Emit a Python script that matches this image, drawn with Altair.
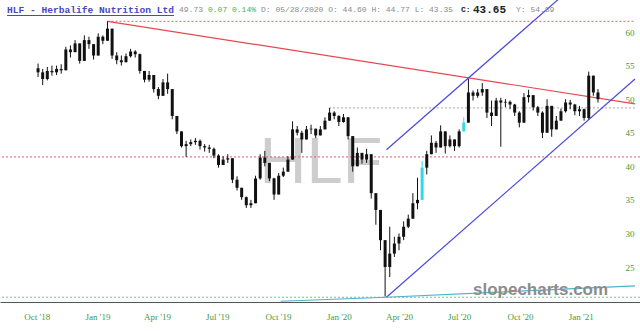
import altair as alt
import pandas as pd

# ---------------- data (weekly candles) ----------------
first_week = "2018-10-01"
first_open = 54.6
close = [54.0, 53.0, 54.2, 54.0, 54.5, 54.3, 57.4, 57.0, 58.3, 55.7,
         58.8, 58.2, 56.5, 59.3, 58.7, 60.5, 56.5, 55.8, 55.5, 56.4,
         57.1, 56.7, 54.2, 52.9, 53.6, 51.5, 50.5, 52.5, 51.5, 47.5,
         45.2, 43.0, 43.3, 43.6, 43.8, 43.0, 42.8, 42.6, 41.6, 40.2,
         41.0, 41.2, 38.0, 36.8, 35.4, 34.2, 34.5, 38.2, 41.3, 40.5,
         38.2, 35.8, 38.6, 39.2, 41.0, 45.5, 45.0, 44.0, 45.5, 45.6,
         44.6, 45.5, 46.8, 48.0, 47.5, 46.6, 47.3, 44.5, 40.0, 42.0,
         41.0, 41.8, 36.0, 33.5, 29.0, 25.0, 27.0, 28.5, 29.5, 31.0,
         32.2, 34.5, 35.0, 39.8, 41.8, 43.5, 42.8, 45.2, 43.0, 44.0,
         43.0, 45.2, 46.5, 51.0, 50.5, 51.0, 51.5, 48.0, 47.5, 49.8,
         49.5, 49.6, 49.2, 48.0, 46.5, 50.3, 50.6, 48.8, 48.0, 45.0,
         49.0, 45.5, 46.8, 48.2, 49.5, 49.2, 48.2, 48.5, 47.2, 53.5,
         51.0, 50.0]
high = [55.3, 54.5, 54.8, 55.0, 55.0, 55.2, 57.8, 58.0, 58.8, 58.0,
        59.5, 59.3, 58.0, 59.8, 59.5, 61.6, 59.5, 57.0, 56.5, 56.8,
        57.5, 57.3, 56.8, 54.0, 54.2, 53.0, 51.8, 53.0, 53.8, 50.5,
        47.5, 45.0, 43.8, 44.0, 44.2, 44.0, 43.3, 43.2, 42.8, 41.8,
        41.5, 41.8, 40.0, 38.5, 36.8, 35.5, 35.0, 38.6, 41.8, 42.3,
        40.5, 38.3, 39.0, 39.8, 41.5, 46.7, 46.0, 45.3, 46.0, 46.2,
        45.6, 46.0, 47.3, 48.7, 48.2, 47.6, 47.8, 47.3, 43.0, 42.8,
        42.0, 42.6, 40.0, 35.0, 32.5, 28.0, 31.0, 29.5, 30.0, 31.8,
        32.8, 36.0, 38.3, 40.8, 42.3, 44.6, 43.8, 46.1, 45.0, 44.6,
        44.0, 45.5, 47.3, 53.0, 51.3, 51.5, 52.4, 51.5, 49.8, 50.2,
        50.2, 50.0, 49.8, 49.3, 48.2, 50.9, 51.4, 50.5, 49.0, 48.2,
        50.0, 48.5, 47.5, 48.6, 50.0, 49.9, 49.3, 49.0, 48.6, 54.1,
        53.5, 51.5]
low = [53.3, 52.1, 52.8, 53.5, 53.6, 53.8, 54.3, 56.2, 57.0, 55.3,
       55.7, 57.5, 55.9, 56.5, 58.2, 58.8, 56.0, 55.2, 55.0, 55.5,
       56.2, 56.2, 53.8, 52.5, 52.6, 51.0, 50.0, 50.5, 50.8, 47.0,
       44.8, 42.8, 41.4, 43.0, 43.2, 42.5, 42.2, 42.0, 41.2, 39.8,
       40.2, 40.5, 37.5, 36.4, 35.0, 33.8, 33.8, 34.5, 38.0, 40.0,
       37.8, 35.0, 36.0, 38.4, 39.5, 41.0, 44.6, 42.0, 44.5, 44.8,
       44.2, 44.6, 46.0, 47.0, 47.0, 46.0, 46.5, 44.0, 39.2, 40.0,
       40.4, 40.5, 35.2, 31.3, 27.5, 20.6, 23.5, 26.5, 27.5, 29.0,
       30.8, 33.0, 33.6, 35.5, 38.8, 42.0, 42.0, 43.0, 41.9, 42.8,
       42.3, 42.8, 45.5, 47.0, 49.8, 50.2, 50.5, 47.2, 46.0, 49.0,
       42.9, 48.8, 48.5, 47.5, 45.8, 46.5, 49.5, 48.3, 47.5, 44.2,
       45.0, 44.4, 45.5, 46.8, 48.0, 48.5, 47.6, 47.5, 46.8, 47.0,
       50.5, 49.5]
cyan_weeks = [83, 92]

x_ticks = ["2018-10-01", "2019-01-01", "2019-04-01", "2019-07-01", "2019-10-01",
           "2020-01-01", "2020-04-01", "2020-07-01", "2020-10-01", "2021-01-01"]
y_ticks = [25, 30, 35, 40, 45, 50, 55, 60]
x_domain = ["2018-08-14", "2021-03-24"]
y_domain = [19.79, 64.77]

# horizontal levels
peak_date, peak_price = "2019-01-16", 61.6
jan20_date, jan20_price = "2019-12-17", 48.7
support_price = 41.4
floor_price = 20.5

# sloped lines (start date, start price, end date, end price, colour)
seg_x = ["2019-01-16", "2020-03-13", "2020-03-13", "2019-10-05", "2020-03-13"]
seg_x2 = ["2021-03-24", "2021-03-24", "2021-03-24", "2020-03-13", "2021-03-24"]
seg_y = [61.6, 20.5, 42.46, 19.9, 20.5]
seg_y2 = [49.3, 53.0, 74.86, 20.5, 22.2]
seg_col = ["#e8474f", "#4a4ae0", "#4a4ae0", "#4ab5c8", "#4ab5c8"]

# ---------------- build tables ----------------
dates = pd.date_range(first_week, periods=len(close), freq="7D") + pd.Timedelta(days=2)
opens = [first_open] + close[:-1]
df = pd.DataFrame({
    "date": dates.strftime("%Y-%m-%d"),
    "open": opens,
    "close": close,
    "high": [max(h, o, c) for h, o, c in zip(high, opens, close)],
    "low": [min(l, o, c) for l, o, c in zip(low, opens, close)],
    "col": ["#33d8e8" if i in cyan_weeks else "#111111" for i in range(len(close))],
})


def dt(s):
    y, m, d = map(int, s.split("-"))
    return alt.DateTime(year=y, month=m, date=d, utc=True)


xs = alt.Scale(type="utc", domain=[dt(s) for s in x_domain])
ys = alt.Scale(domain=y_domain, nice=False, zero=False)

x_axis = alt.Axis(values=[dt(s) for s in x_ticks], format="%b '%y", labelPadding=10,
                  domain=True, domainColor="#555555", domainWidth=1, ticks=False,
                  grid=False, title=None, labelOverlap=False, labelFlush=False)
y_axis = alt.Axis(orient="right", values=y_ticks, offset=-15, labelPadding=0,
                  domain=False, ticks=False, grid=False, title=None, labelAlign="left")

raw_color = alt.Color("col:N", scale=None)

# watermark
watermark = alt.Chart(pd.DataFrame({"t": ["HLF"]})).mark_text(
    font="Liberation Sans", fontSize=65, color="#cdcdcd", align="center", baseline="alphabetic"
).encode(text="t:N", x=alt.value(321), y=alt.value(183))

# full-width dotted levels
full_levels = pd.DataFrame({"p": [support_price, floor_price], "col": ["#e0566a", "#5fc98a"]})
full_rules = alt.Chart(full_levels).mark_rule(strokeDash=[2, 2], strokeWidth=1).encode(
    y=alt.Y("p:Q", scale=ys, axis=y_axis), color=raw_color)

part_levels = pd.DataFrame({
    "d": [peak_date, jan20_date], "d2": [x_domain[1], x_domain[1]],
    "p": [peak_price, jan20_price], "col": ["#e06070", "#a8a8a8"]})
part_rules = alt.Chart(part_levels).mark_rule(strokeDash=[2, 2], strokeWidth=1).encode(
    x=alt.X("d:T", scale=xs, axis=x_axis), x2="d2:T",
    y=alt.Y("p:Q", scale=ys), color=raw_color)

segs = pd.DataFrame({"x": seg_x, "x2": seg_x2, "y": seg_y, "y2": seg_y2, "col": seg_col})
seg_rules = alt.Chart(segs).mark_rule(strokeWidth=1.2, clip=True).encode(
    x=alt.X("x:T", scale=xs), x2="x2:T",
    y=alt.Y("y:Q", scale=ys), y2="y2:Q", color=raw_color)

wicks = alt.Chart(df).mark_rule(strokeWidth=1).encode(
    x=alt.X("date:T", scale=xs), y=alt.Y("low:Q", scale=ys), y2="high:Q", color=raw_color)
bodies = alt.Chart(df).mark_bar(size=3).encode(
    x=alt.X("date:T", scale=xs), y=alt.Y("open:Q", scale=ys), y2="close:Q", color=raw_color)


def label(text, px, py, color, size, font="Liberation Mono", weight="normal", align="left"):
    return alt.Chart(pd.DataFrame({"t": [text]})).mark_text(
        font=font, fontSize=size, color=color, fontWeight=weight, align=align, baseline="middle"
    ).encode(text="t:N", x=alt.value(px), y=alt.value(py))


title_txt = label("HLF - Herbalife Nutrition Ltd", 7, 10, "#4848c4", 9.6, weight="bold")
underline = alt.Chart(pd.DataFrame({"a": [0]})).mark_rule(color="#4848c4", strokeWidth=1).encode(
    x=alt.value(7), x2=alt.value(174), y=alt.value(15.5))
last_txt = label("49.73", 179, 10, "#8a8a8a", 8)
chg_txt = label("0.07 0.14%", 208, 10, "#4daa4d", 8)
ohlc_txt = label("D: 05/28/2020 O: 44.60 H: 44.77 L: 43.35", 261, 10, "#8a8a8a", 8)
c_txt = label("C:", 461, 10, "#222222", 8, weight="bold")
cval_txt = label("43.65", 473, 10, "#222222", 11, weight="bold")
y_txt = label("Y: 54.89", 516, 10, "#8a8a8a", 8)
brand = alt.Chart(pd.DataFrame({"t": ["slopecharts.com"]})).mark_text(
    font="Liberation Sans", fontSize=17, fontWeight="bold", color="#8c8c8c",
    align="left", baseline="alphabetic"
).encode(text="t:N", x=alt.value(473), y=alt.value(295))

chart = alt.layer(
    watermark, full_rules, part_rules, seg_rules, wicks, bodies,
    brand, title_txt, underline, last_txt, chg_txt, ohlc_txt, c_txt, cval_txt, y_txt,
).properties(
    width=640, height=302,
    autosize=alt.AutoSizeParams(type="none"),
    padding={"left": 0, "top": 0, "right": 0, "bottom": 29},
).configure_view(stroke=None).configure_axis(
    labelFont="Liberation Serif", labelColor="#3f9a3f", labelFontSize=9
)

chart.save("out.html", embed_options={"renderer": "svg", "actions": False})
